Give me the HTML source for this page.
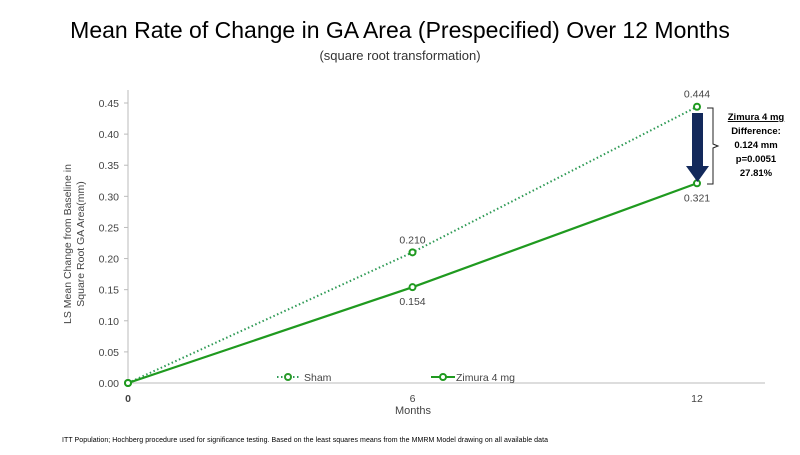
<!DOCTYPE html>
<html><head><meta charset="utf-8"><style>
body{margin:0;background:#fff;width:800px;height:450px;overflow:hidden;font-family:"Liberation Sans",sans-serif}
svg text{font-family:"Liberation Sans",sans-serif}
</style></head><body>
<svg id="c" width="800" height="450">
<text x="400" y="38" text-anchor="middle" font-size="23" fill="#000">Mean Rate of Change in GA Area (Prespecified) Over 12 Months</text>
<text x="400" y="60" text-anchor="middle" font-size="13" fill="#333">(square  root transformation)</text>
<g id="axes"></g>
<g id="series"></g>
<text x="413" y="414" text-anchor="middle" font-size="11" fill="#444">Months</text>
<text transform="translate(74,244) rotate(-90)" text-anchor="middle" font-size="10.5" fill="#444"><tspan x="0" dy="-3">LS Mean Change from Baseline in</tspan><tspan x="0" dy="13">Square Root GA Area(mm)</tspan></text>
<g>
<g><line x1="277" y1="377" x2="300" y2="377" stroke="#2e9a55" stroke-width="2" stroke-dasharray="1.5,2.5"/><circle cx="288" cy="377" r="3" fill="#fff" stroke="#2a9a2a" stroke-width="2"/><text x="304" y="381" font-size="10.5" fill="#444">Sham</text></g>
<g><line x1="431" y1="377" x2="455" y2="377" stroke="#1f9a1f" stroke-width="2"/><circle cx="443" cy="377" r="3" fill="#fff" stroke="#1f9a1f" stroke-width="2"/><text x="456" y="381" font-size="10.5" fill="#444">Zimura 4 mg</text></g>
</g>
<g>
<rect x="692" y="113" width="11" height="56" fill="#13295b"/>
<polygon points="686,166 709,166 697.5,182" fill="#13295b"/>
<path d="M707,108 H713 V144 L718,146 L713,148 V184 H707" fill="none" stroke="#222" stroke-width="1"/>
<g font-size="9.5" font-weight="bold" fill="#000" text-anchor="middle">
<text x="756" y="120" text-decoration="underline">Zimura 4 mg</text>
<text x="756" y="134">Difference:</text>
<text x="756" y="148">0.124 mm</text>
<text x="756" y="162">p=0.0051</text>
<text x="756" y="176">27.81%</text>
</g></g>
<text x="62" y="442" font-size="7" fill="#000" textLength="486">ITT Population;   Hochberg procedure  used for significance  testing. Based on the least squares means from the MMRM Model drawing on all available data</text>
</svg>
<script>
const months=[0,6,12];
const sham=[0,0.210,0.444];
const zimura=[0,0.154,0.321];
const shamLabels=["","0.210","0.444"];
const zimuraLabels=["","0.154","0.321"];
const yTicks=[0,0.05,0.10,0.15,0.20,0.25,0.30,0.35,0.40,0.45];
const NS="http://www.w3.org/2000/svg";
const X=m=>128+m*(697-128)/12;
const Y=v=>383-v*622.2;
function mk(t,a,p){const e=document.createElementNS(NS,t);for(const k in a)e.setAttribute(k,a[k]);p.appendChild(e);return e;}
const ax=document.getElementById('axes'),se=document.getElementById('series');
let l=mk('line',{x1:128,y1:90,x2:128,y2:383,stroke:'#bbb'},ax);


l=mk('line',{x1:128,y1:383,x2:765,y2:383,stroke:'#bbb'},ax);


yTicks.forEach(v=>{mk('line',{x1:124,y1:Y(v),x2:128,y2:Y(v),stroke:'#bbb'},ax);
const t=mk('text',{x:119,y:Y(v)+4,'text-anchor':'end','font-size':10.5,fill:'#444'},ax);t.textContent=v.toFixed(2);

});
months.forEach(m=>{const t=mk('text',{x:X(m),y:402,'text-anchor':'middle','font-size':10.5,fill:'#444','font-weight':m===0?'bold':'normal'},ax);t.textContent=m;

});
function series(vals,labels,color,dash,name,below){
const p=mk('polyline',{points:vals.map((v,i)=>X(months[i])+','+Y(v)).join(' '),fill:'none',stroke:color,'stroke-width':dash?2:2.2,'stroke-dasharray':dash||'none'},se);


vals.forEach((v,i)=>{const c=mk('circle',{cx:X(months[i]),cy:Y(v),r:3,fill:'#fff',stroke:'#1f9a1f','stroke-width':2},se);


if(labels[i]){const t=mk('text',{x:X(months[i]),y:Y(v)+(below?18:-9),'text-anchor':'middle','font-size':10.5,fill:'#444'},se);t.textContent=labels[i];

}});}
series(sham,shamLabels,'#2e9a55','1.5,2.5','sham',false);
series(zimura,zimuraLabels,'#1f9a1f',null,'zimura',true);
</script>
</body></html>
